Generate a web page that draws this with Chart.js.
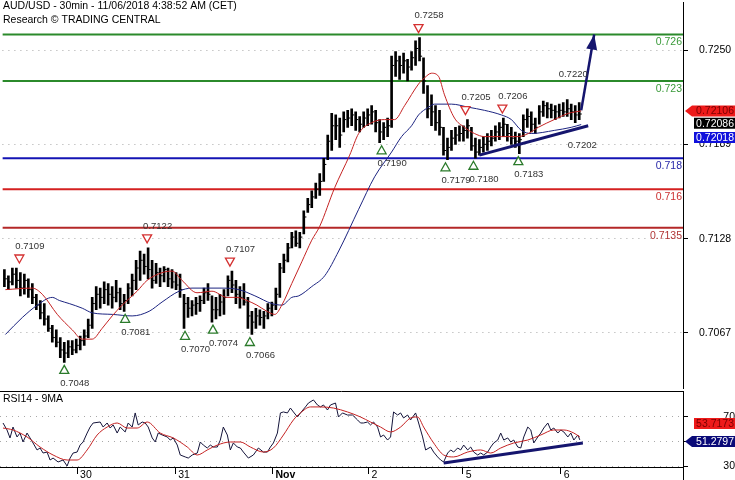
<!DOCTYPE html>
<html>
<head>
<meta charset="utf-8">
<script src="https://cdn.jsdelivr.net/npm/chart.js@4.4.0/dist/chart.umd.min.js"></script>
<style>
  html, body { margin: 0; padding: 0; background: #fff; }
  #wrap { position: relative; width: 735px; height: 480px; overflow: hidden; }
  #main { position: absolute; left: 0; top: 0; }
  #rsi { position: absolute; left: 0; top: 391px; }
</style>
</head>
<body>
<div id="wrap">
  <canvas id="main" width="735" height="391"></canvas>
  <canvas id="rsi" width="735" height="89"></canvas>
</div>
<script>
const FONT = '"Liberation Sans", Arial, sans-serif';
const X_MAX = 341; // 30min bars shown across the plot

// axis ticks
const priceTicks = [0.7067, 0.7128, 0.7189, 0.7250];
const rsiTicks = [30, 50, 70];
const dayTicks = [38.5, 87.5, 136, 184, 231, 280];
const dayLabels = ['30', '31', 'Nov', '2', '5', '6'];

// price bars (one every 2 bars)
const highs = [
  0.7108, 0.7104, 0.7109, 0.7109, 0.7106, 0.7105, 0.7102, 0.7099, 0.7092, 0.7088,
  0.7086, 0.7078, 0.7072, 0.7069, 0.7064, 0.7061, 0.7062, 0.7062, 0.7063, 0.7065,
  0.7069, 0.7076, 0.7090, 0.7097, 0.7096, 0.7100, 0.7099, 0.7097, 0.7101, 0.7096,
  0.7092, 0.7099, 0.7105, 0.7114, 0.7120, 0.7118, 0.7122, 0.7114, 0.7112, 0.7109,
  0.7110, 0.7109, 0.7108, 0.7106, 0.7105, 0.7092, 0.7090, 0.7088, 0.7090, 0.7091,
  0.7096, 0.7099, 0.7091, 0.7090, 0.7092, 0.7095, 0.7104, 0.7107, 0.7101, 0.7097,
  0.7099, 0.7090, 0.7081, 0.7083, 0.7082, 0.7081, 0.7086, 0.7087, 0.7096, 0.7112,
  0.7118, 0.7125, 0.7132, 0.7133, 0.7132, 0.7146, 0.7154, 0.7159, 0.7164, 0.7170,
  0.7180, 0.7195, 0.7209, 0.7208, 0.7206, 0.7210, 0.7211, 0.7212, 0.7210, 0.7207,
  0.7210, 0.7212, 0.7214, 0.7211, 0.7205, 0.7203, 0.7206, 0.7246, 0.7249, 0.7246,
  0.7248, 0.7244, 0.7249, 0.7256, 0.7258, 0.7245, 0.7227, 0.7221, 0.7214, 0.7211,
  0.7200, 0.7193, 0.7198, 0.7200, 0.7201, 0.7201, 0.7205, 0.7200, 0.7193, 0.7192,
  0.7194, 0.7196, 0.7198, 0.7201, 0.7203, 0.7206, 0.7202, 0.7200, 0.7197, 0.7196,
  0.7208, 0.7212, 0.7210, 0.7206, 0.7214, 0.7217, 0.7216, 0.7215, 0.7214, 0.7215,
  0.7216, 0.7218, 0.7215, 0.7214, 0.7216
];
const lows = [
  0.7097, 0.7095, 0.7098, 0.7096, 0.7091, 0.7092, 0.7090, 0.7086, 0.7082, 0.7076,
  0.7072, 0.7068, 0.7061, 0.7058, 0.7051, 0.7048, 0.7051, 0.7053, 0.7054, 0.7056,
  0.7059, 0.7064, 0.7070, 0.7082, 0.7083, 0.7086, 0.7085, 0.7083, 0.7087, 0.7082,
  0.7081, 0.7086, 0.7091, 0.7095, 0.7101, 0.7105, 0.7102, 0.7096, 0.7099, 0.7097,
  0.7100, 0.7097, 0.7096, 0.7095, 0.7090, 0.7070, 0.7077, 0.7078, 0.7079, 0.7081,
  0.7086, 0.7088, 0.7074, 0.7076, 0.7078, 0.7079, 0.7091, 0.7093, 0.7086, 0.7083,
  0.7085, 0.7070, 0.7066, 0.7070, 0.7072, 0.7070, 0.7076, 0.7078, 0.7082, 0.7090,
  0.7106, 0.7113, 0.7122, 0.7123, 0.7122, 0.7131, 0.7145, 0.7148, 0.7154, 0.7156,
  0.7165, 0.7179, 0.7185, 0.7192, 0.7187, 0.7197, 0.7200, 0.7201, 0.7198, 0.7197,
  0.7200, 0.7201, 0.7202, 0.7197, 0.7190, 0.7192, 0.7194, 0.7200, 0.7233, 0.7231,
  0.7235, 0.7230, 0.7237, 0.7240, 0.7243, 0.7222, 0.7206, 0.7201, 0.7198, 0.7195,
  0.7182, 0.7179, 0.7185, 0.7189, 0.7191, 0.7191, 0.7193, 0.7185, 0.7180, 0.7182,
  0.7184, 0.7185, 0.7188, 0.7191, 0.7192, 0.7194, 0.7191, 0.7189, 0.7187, 0.7183,
  0.7194, 0.7200, 0.7197, 0.7196, 0.7202, 0.7207, 0.7206, 0.7206, 0.7205, 0.7206,
  0.7207, 0.7207, 0.7205, 0.7203, 0.7205
];
const closes = [
  0.7102, 0.7100, 0.7105, 0.7101, 0.7096, 0.7101, 0.7095, 0.7090, 0.7085, 0.7080,
  0.7076, 0.7070, 0.7064, 0.7061, 0.7056, 0.7054, 0.7058, 0.7056, 0.7059, 0.7062,
  0.7065, 0.7072, 0.7086, 0.7092, 0.7090, 0.7095, 0.7092, 0.7090, 0.7093, 0.7086,
  0.7088, 0.7096, 0.7101, 0.7109, 0.7114, 0.7110, 0.7108, 0.7101, 0.7106, 0.7104,
  0.7108, 0.7102, 0.7100, 0.7098, 0.7095, 0.7086, 0.7083, 0.7085, 0.7086, 0.7088,
  0.7093, 0.7092, 0.7082, 0.7082, 0.7087, 0.7090, 0.7101, 0.7098, 0.7092, 0.7090,
  0.7087, 0.7078, 0.7074, 0.7078, 0.7077, 0.7078, 0.7083, 0.7085, 0.7092, 0.7109,
  0.7114, 0.7122, 0.7129, 0.7125, 0.7129, 0.7142, 0.7150, 0.7155, 0.7160, 0.7165,
  0.7176, 0.7191, 0.7201, 0.7201, 0.7195, 0.7205, 0.7206, 0.7208, 0.7205, 0.7202,
  0.7206, 0.7208, 0.7210, 0.7203, 0.7197, 0.7200, 0.7201, 0.7240, 0.7243, 0.7240,
  0.7243, 0.7239, 0.7245, 0.7251, 0.7246, 0.7230, 0.7212, 0.7210, 0.7203, 0.7200,
  0.7185, 0.7187, 0.7193, 0.7195, 0.7196, 0.7198, 0.7201, 0.7188, 0.7184, 0.7187,
  0.7189, 0.7191, 0.7193, 0.7197, 0.7200, 0.7202, 0.7196, 0.7193, 0.7191, 0.7192,
  0.7205, 0.7207, 0.7202, 0.7200, 0.7210, 0.7214, 0.7212, 0.7211, 0.7210, 0.7211,
  0.7210, 0.7212, 0.7210, 0.7208, 0.72086
];

// moving averages [bar, price]
const redMA = [
  [1.5, 0.7095], [15, 0.7096], [20, 0.7092], [27.5, 0.7079], [35, 0.7069], [40, 0.7063],
  [45, 0.7063], [50, 0.7070], [55, 0.7078], [60, 0.7085], [67.5, 0.7094], [72.5, 0.7101],
  [80, 0.7106], [85, 0.7107], [90, 0.7101], [97.5, 0.7093], [105, 0.7094], [112.5, 0.7090],
  [117.5, 0.7090], [122.5, 0.7088], [127.5, 0.7085], [132.5, 0.7081], [136.5, 0.7079],
  [140, 0.7085], [145, 0.7099], [150, 0.7113], [155, 0.7127], [159, 0.7136], [166.5, 0.7161],
  [174, 0.7182], [178.5, 0.7196], [185, 0.7203], [191.5, 0.7205], [196.5, 0.7205],
  [201.5, 0.7214], [208.5, 0.7228], [211.5, 0.7232], [215, 0.7235], [218.5, 0.7233],
  [221.5, 0.7221], [226.5, 0.7206], [231.5, 0.7200], [236.5, 0.7196], [241.5, 0.7194],
  [250, 0.7194], [258.5, 0.7194], [263.5, 0.7196], [268.5, 0.7200], [276.5, 0.7205],
  [283.5, 0.7209], [290, 0.72106]
];
const blueMA = [
  [1.5, 0.7066], [10, 0.7077], [17.5, 0.7085], [25, 0.7090], [28.5, 0.7088], [33.5, 0.7086],
  [40, 0.7083], [45, 0.7080], [55, 0.7079], [65, 0.7078], [73.5, 0.7081], [80, 0.7087],
  [88.5, 0.7094], [95, 0.7096], [103.5, 0.7096], [110, 0.7096], [118.5, 0.7095],
  [126.5, 0.7091], [135, 0.7086], [140, 0.7085], [145, 0.7090], [148.5, 0.7091],
  [155, 0.7097], [161.5, 0.7104], [168.5, 0.7120], [178.5, 0.7147], [186.5, 0.7168],
  [195, 0.7184], [200, 0.7194], [205, 0.7201], [208.5, 0.7208], [213.5, 0.7213],
  [216.5, 0.7215], [225, 0.7215], [233.5, 0.7213], [241.5, 0.7211], [250, 0.7208],
  [255, 0.7205], [260, 0.7198], [265, 0.7196], [276.5, 0.7198], [285, 0.7200], [290, 0.72018]
];

// support / resistance levels
const levels = [0.726, 0.723, 0.718, 0.716, 0.7135];
const levelLabels = ['0.726', '0.723', '0.718', '0.716', '0.7135'];
const levelColors = ['#2b8a2b', '#2b8a2b', '#1414b4', '#d42020', '#b42828'];
const levelTextColors = ['#3a9a3a', '#3a9a3a', '#2828a8', '#cc3030', '#b03434'];

// swing highs / lows
const pivots = [
  { x: 8.5, p: 0.7109, hi: true }, { x: 31, p: 0.7048, hi: false },
  { x: 61.5, p: 0.7081, hi: false }, { x: 72.5, p: 0.7122, hi: true },
  { x: 91.5, p: 0.7070, hi: false }, { x: 105.5, p: 0.7074, hi: false },
  { x: 114, p: 0.7107, hi: true }, { x: 124, p: 0.7066, hi: false },
  { x: 190, p: 0.7190, hi: false }, { x: 208.5, p: 0.7258, hi: true },
  { x: 222, p: 0.7179, hi: false }, { x: 232, p: 0.7205, hi: true },
  { x: 236, p: 0.7180, hi: false }, { x: 250.5, p: 0.7206, hi: true },
  { x: 258.5, p: 0.7183, hi: false }
];
const trendMain = [[239, 0.7182], [293.5, 0.7201]];
const targetArrow = [[290, 0.7211], [296.5, 0.7260]];
const targetLabels = [
  { x: 286, p: 0.7234, t: '0.7220' },
  { x: 290.5, p: 0.71886, t: '0.7202' }
];
const lastRed = 0.72106, lastClose = 0.72086, lastBlue = 0.72018;

// RSI(14) and its 9 period MA [bar, value]
const rsi = [
  [1.5, 65.1], [3.5, 59.4], [5, 52.9], [6.5, 61.8], [8.5, 53.7], [10, 56.9], [11.5, 49.6],
  [13.5, 56.9], [15, 52.9], [16.5, 48.8], [18.5, 43.1], [20, 44.7], [21.5, 40.6], [23.5, 41.4],
  [25, 34.9], [26.5, 36.5], [29, 33.3], [31.5, 34.9], [33.5, 30.0], [35, 36.5], [36.5, 40.6],
  [38.5, 41.4], [40, 47.1], [41.5, 49.6], [43.5, 56.9], [45, 61.8], [46.5, 65.1], [50, 65.9],
  [51.5, 61.8], [53.5, 65.1], [55, 61.0], [56.5, 63.5], [58.5, 56.9], [60, 61.8], [62.5, 57.8],
  [64, 65.1], [66, 61.8], [67.5, 73.3], [69, 63.5], [71, 65.9], [72.5, 65.1], [74, 61.8],
  [76, 52.9], [77.5, 49.6], [79, 56.9], [81, 55.3], [83.5, 53.7], [85, 51.2], [86.5, 52.9],
  [88.5, 47.1], [90, 39.0], [92.5, 37.4], [94, 36.5], [96, 39.0], [98.5, 40.6], [100, 49.6],
  [101.5, 47.1], [103.5, 44.7], [105, 47.1], [106.5, 45.5], [108.5, 45.5], [110, 51.2],
  [111.5, 61.8], [113.5, 55.3], [115, 43.1], [116.5, 48.8], [118.5, 45.5], [120, 44.7],
  [121.5, 41.4], [124, 36.5], [126.5, 39.0], [129, 44.7], [131.5, 41.4], [133.5, 41.4],
  [135, 45.5], [136.5, 48.8], [138.5, 56.9], [140, 73.3], [141.5, 74.1], [143.5, 73.3],
  [145, 77.3], [146.5, 74.1], [148.5, 70.0], [150, 73.3], [152.5, 78.2], [154, 81.4],
  [156.5, 83.9], [158.5, 79.8], [160, 78.2], [161.5, 79.8], [163.5, 75.7], [165, 79.8],
  [167.5, 81.4], [169, 70.0], [171, 73.3], [173.5, 71.6], [176, 71.6], [178.5, 67.6],
  [180, 65.1], [181.5, 65.1], [183.5, 65.9], [185, 63.5], [186.5, 65.9], [188.5, 61.8],
  [190, 53.7], [191.5, 55.3], [193.5, 51.2], [195, 53.7], [196.5, 74.1], [198.5, 71.6],
  [200, 73.3], [201.5, 69.2], [203.5, 71.6], [205, 67.6], [207.5, 73.3], [209, 65.1],
  [211, 53.7], [212.5, 43.1], [215, 45.5], [216.5, 41.4], [218.5, 37.4], [220, 34.9],
  [221.5, 33.3], [223.5, 40.6], [225, 43.1], [226.5, 41.4], [228.5, 44.7], [230, 43.1],
  [231.5, 47.1], [233.5, 43.1], [235, 45.5], [236.5, 41.4], [238.5, 39.0], [240, 40.6],
  [241.5, 39.0], [243.5, 41.4], [245, 45.5], [246.5, 48.8], [248.5, 51.2], [250, 56.9],
  [251.5, 51.2], [253.5, 52.9], [255, 49.6], [256.5, 51.2], [258.5, 45.5], [260, 44.7],
  [261.5, 53.7], [263.5, 61.8], [265, 59.4], [266.5, 48.8], [268.5, 53.7], [270, 56.9],
  [271.5, 61.0], [273.5, 65.1], [275, 59.4], [276.5, 61.0], [278.5, 56.9], [280, 59.4],
  [281.5, 57.8], [283.5, 53.7], [285, 56.9], [286.5, 51.2], [288.5, 55.3], [289.5, 51.28]
];
const rsiMA = [
  [1.5, 61.0], [6.5, 59.4], [13.5, 53.7], [20, 45.5], [26.5, 39.0], [33.5, 34.9], [38.5, 34.9],
  [43.5, 43.1], [48.5, 55.3], [53.5, 61.8], [58.5, 65.1], [63.5, 61.0], [68.5, 61.0],
  [73.5, 65.9], [80, 56.9], [86.5, 52.9], [93.5, 45.5], [98.5, 39.0], [103.5, 43.1],
  [108.5, 47.1], [115, 49.6], [120, 49.6], [125, 45.5], [131.5, 41.4], [136.5, 44.7],
  [141.5, 55.3], [146.5, 67.6], [150, 73.3], [155, 78.2], [160, 78.2], [166.5, 77.3],
  [173.5, 74.1], [180, 70.0], [185, 65.9], [190, 61.8], [195, 57.8], [200, 61.8],
  [205, 69.2], [208.5, 70.0], [211.5, 61.8], [216.5, 48.8], [221.5, 39.0], [226.5, 37.4],
  [233.5, 41.4], [240, 43.1], [245, 40.6], [250, 44.7], [256.5, 48.8], [263.5, 51.2],
  [270, 55.3], [276.5, 59.4], [281.5, 59.4], [286.5, 56.9], [289.5, 53.72]
];
const rsiTrend = [[221.5, 32.5], [291, 48.8]];
const lastRsi = 51.2797, lastRsiMA = 53.7173;

const NAVY = '#15156e';
const pts = arr => arr.map(([x, y]) => ({ x, y }));

function valueBox(ctx, left, yc, text, bg, fg, arrow) {
  const h = 11, r = 735;
  ctx.fillStyle = bg;
  ctx.beginPath();
  if (arrow) {
    ctx.moveTo(left, yc);
    ctx.lineTo(left + 7, yc - h / 2);
    ctx.lineTo(r, yc - h / 2);
    ctx.lineTo(r, yc + h / 2);
    ctx.lineTo(left + 7, yc + h / 2);
    ctx.closePath();
  } else {
    ctx.rect(left + 5, yc - h / 2, r - left - 5, h);
  }
  ctx.fill();
  ctx.fillStyle = fg;
  ctx.font = '10.5px ' + FONT;
  ctx.textAlign = 'right';
  ctx.textBaseline = 'middle';
  ctx.fillText(text, r - 1, yc + 0.5);
}

function triangle(ctx, cx, cy, down, color) {
  ctx.beginPath();
  if (down) {
    ctx.moveTo(cx - 4.5, cy - 4);
    ctx.lineTo(cx + 4.5, cy - 4);
    ctx.lineTo(cx, cy + 4);
  } else {
    ctx.moveTo(cx - 4.5, cy + 4);
    ctx.lineTo(cx + 4.5, cy + 4);
    ctx.lineTo(cx, cy - 4);
  }
  ctx.closePath();
  ctx.fillStyle = '#fff';
  ctx.fill();
  ctx.strokeStyle = color;
  ctx.lineWidth = 1.3;
  ctx.stroke();
}

// the axes must not push the plot area inwards
function fixAxis(s) {
  if (s.axis === 'y') s.width = 52; else s.height = 13;
  s.paddingTop = 0; s.paddingBottom = 0; s.paddingLeft = 0; s.paddingRight = 0;
}

const mainOverlay = {
  id: 'mainOverlay',
  afterDatasetsDraw(chart) {
    const { ctx, chartArea, scales: { x, y } } = chart;
    ctx.save();
    // level labels
    ctx.font = '10.5px ' + FONT;
    ctx.textAlign = 'right';
    ctx.textBaseline = 'middle';
    levels.forEach((v, i) => {
      ctx.fillStyle = levelTextColors[i];
      ctx.fillText(levelLabels[i], chartArea.right - 1, y.getPixelForValue(v) + 8);
    });
    // pivots
    ctx.font = '9.5px ' + FONT;
    ctx.textAlign = 'left';
    pivots.forEach(pv => {
      const px = x.getPixelForValue(pv.x);
      const py = y.getPixelForValue(pv.p);
      triangle(ctx, px, pv.hi ? py - 9 : py + 7, pv.hi, pv.hi ? '#d43030' : '#2a7a2a');
      ctx.fillStyle = '#333';
      ctx.fillText(pv.p.toFixed(4), px - 4, pv.hi ? py - 22 : py + 21);
    });
    ctx.textAlign = 'center';
    targetLabels.forEach(t => {
      ctx.fillStyle = '#333';
      ctx.fillText(t.t, x.getPixelForValue(t.x), y.getPixelForValue(t.p));
    });
    // arrow head
    const [a, b] = targetArrow;
    const x1 = x.getPixelForValue(a[0]), y1 = y.getPixelForValue(a[1]);
    const x2 = x.getPixelForValue(b[0]), y2 = y.getPixelForValue(b[1]);
    const ang = Math.atan2(y2 - y1, x2 - x1);
    const L = 15, W = 5.5;
    ctx.fillStyle = NAVY;
    ctx.beginPath();
    ctx.moveTo(x2, y2);
    ctx.lineTo(x2 - L * Math.cos(ang) + W * Math.sin(ang), y2 - L * Math.sin(ang) - W * Math.cos(ang));
    ctx.lineTo(x2 - L * Math.cos(ang) - W * Math.sin(ang), y2 - L * Math.sin(ang) + W * Math.cos(ang));
    ctx.closePath();
    ctx.fill();
    ctx.restore();
  },
  afterDraw(chart) {
    const { ctx, chartArea, scales: { y } } = chart;
    ctx.save();
    ctx.fillStyle = '#000';
    ctx.font = '10.5px ' + FONT;
    ctx.textAlign = 'left';
    ctx.textBaseline = 'middle';
    ctx.fillText('AUD/USD - 30min - 11/06/2018 4:38:52 AM (CET)', 3, 6);
    ctx.fillText('Research \u00A9 TRADING CENTRAL', 3, 20);
    const left = chartArea.right + 2;
    const yr = y.getPixelForValue(lastRed);
    valueBox(ctx, left + 4, yr + 12.3, lastClose.toFixed(5), '#000', '#fff', false);
    valueBox(ctx, left + 4, yr + 26.5, lastBlue.toFixed(5), '#1010dc', '#fff', false);
    valueBox(ctx, left, yr, lastRed.toFixed(5), '#ee1a1a', '#7a0000', true);
    ctx.restore();
  }
};

const rsiOverlay = {
  id: 'rsiOverlay',
  afterDraw(chart) {
    const { ctx, chartArea, scales: { y } } = chart;
    ctx.save();
    ctx.strokeStyle = '#000';
    ctx.lineWidth = 1;
    ctx.beginPath();
    ctx.moveTo(0, chartArea.top + 0.5);
    ctx.lineTo(chartArea.right, chartArea.top + 0.5);
    ctx.moveTo(chartArea.right + 0.5, chartArea.bottom);
    ctx.lineTo(chartArea.right + 0.5, chart.height);
    ctx.stroke();
    ctx.fillStyle = '#000';
    ctx.font = '10.5px ' + FONT;
    ctx.textAlign = 'left';
    ctx.textBaseline = 'middle';
    ctx.fillText('RSI14 - 9MA', 3, chartArea.top + 8);
    const left = chartArea.right + 2;
    const yl = y.getPixelForValue(lastRsi);
    valueBox(ctx, left + 4, yl - 16.5, lastRsiMA.toFixed(4), '#ee1a1a', '#7a0000', false);
    valueBox(ctx, left, yl + 1.5, lastRsi.toFixed(4), '#0a0a78', '#fff', true);
    ctx.restore();
  }
};

const baseOptions = {
  responsive: false,
  animation: false,
  devicePixelRatio: 1,
  events: [],
  layout: { padding: 0 },
  plugins: { legend: { display: false }, tooltip: { enabled: false } },
  elements: { point: { radius: 0, hoverRadius: 0 } }
};

new Chart(document.getElementById('main'), {
  type: 'line',
  data: {
    datasets: [
      ...levels.map((v, i) => ({
        data: [{ x: 0, y: v }, { x: X_MAX, y: v }],
        borderColor: levelColors[i],
        borderWidth: 2,
        order: 10
      })),
      {
        type: 'bar',
        data: highs.map((h, i) => ({ x: 2 * i + 1, y: [lows[i], h] })),
        backgroundColor: '#000',
        barThickness: 2,
        grouped: false,
        order: 6
      },
      {
        data: closes.map((c, i) => ({ x: 2 * i + 1.6, y: c })),
        showLine: false,
        pointStyle: 'line',
        pointRadius: 1.4,
        pointBorderColor: '#000',
        pointBorderWidth: 1,
        order: 5
      },
      { data: pts(blueMA), borderColor: '#1c2480', borderWidth: 1, cubicInterpolationMode: 'monotone', order: 3 },
      { data: pts(redMA), borderColor: '#c42222', borderWidth: 1, cubicInterpolationMode: 'monotone', order: 2 },
      { data: pts(trendMain), borderColor: NAVY, borderWidth: 3, order: 1 },
      { data: pts(targetArrow), borderColor: NAVY, borderWidth: 2.5, order: 1 }
    ]
  },
  options: {
    ...baseOptions,
    scales: {
      x: { type: 'linear', min: 0, max: X_MAX, display: false, offset: false, grid: { offset: false } },
      y: {
        position: 'right',
        min: 0.70310,
        max: 0.72808,
        afterFit: fixAxis,
        afterBuildTicks(s) { s.ticks = priceTicks.map(v => ({ value: v })); },
        ticks: {
          callback: v => Number(v).toFixed(4),
          color: '#000',
          font: { family: FONT, size: 10.5 },
          padding: 11,
          crossAlign: 'near'
        },
        grid: { color: '#a8a8a8', tickColor: '#000', tickLength: 5, tickBorderDash: [] },
        border: { display: true, color: '#000', width: 1, dash: [1, 5] }
      }
    }
  },
  plugins: [mainOverlay]
});

new Chart(document.getElementById('rsi'), {
  type: 'line',
  data: {
    datasets: [
      { data: pts(rsi), borderColor: '#14143a', borderWidth: 1, order: 3 },
      { data: pts(rsiMA), borderColor: '#c42222', borderWidth: 1, cubicInterpolationMode: 'monotone', order: 2 },
      { data: pts(rsiTrend), borderColor: NAVY, borderWidth: 3, order: 1 }
    ]
  },
  options: {
    ...baseOptions,
    scales: {
      x: {
        type: 'linear',
        min: 0,
        max: X_MAX,
        position: 'bottom',
        offset: false,
        afterFit: fixAxis,
        afterBuildTicks(s) { s.ticks = dayTicks.map(v => ({ value: v })); },
        ticks: {
          autoSkip: false,
          maxRotation: 0,
          align: 'start',
          labelOffset: 3,
          padding: -5,
          color: '#000',
          callback: (v, i) => dayLabels[i],
          font: ctx => ({ family: FONT, size: 10.5, weight: ctx.index === 2 ? 'bold' : 'normal' })
        },
        grid: { drawOnChartArea: false, tickLength: 7, tickColor: '#000' },
        border: { display: true, color: '#000', width: 1 }
      },
      y: {
        position: 'right',
        min: 29.2,
        max: 91.2,
        afterFit: fixAxis,
        afterBuildTicks(s) { s.ticks = rsiTicks.map(v => ({ value: v })); },
        ticks: {
          color: '#000',
          font: { family: FONT, size: 10.5 },
          crossAlign: 'far',
          padding: 32
        },
        grid: { color: '#a8a8a8', tickColor: '#000', tickLength: 5, tickBorderDash: [] },
        border: { display: true, color: '#000', width: 1, dash: [1, 5] }
      }
    }
  },
  plugins: [rsiOverlay]
});
</script>
</body>
</html>
